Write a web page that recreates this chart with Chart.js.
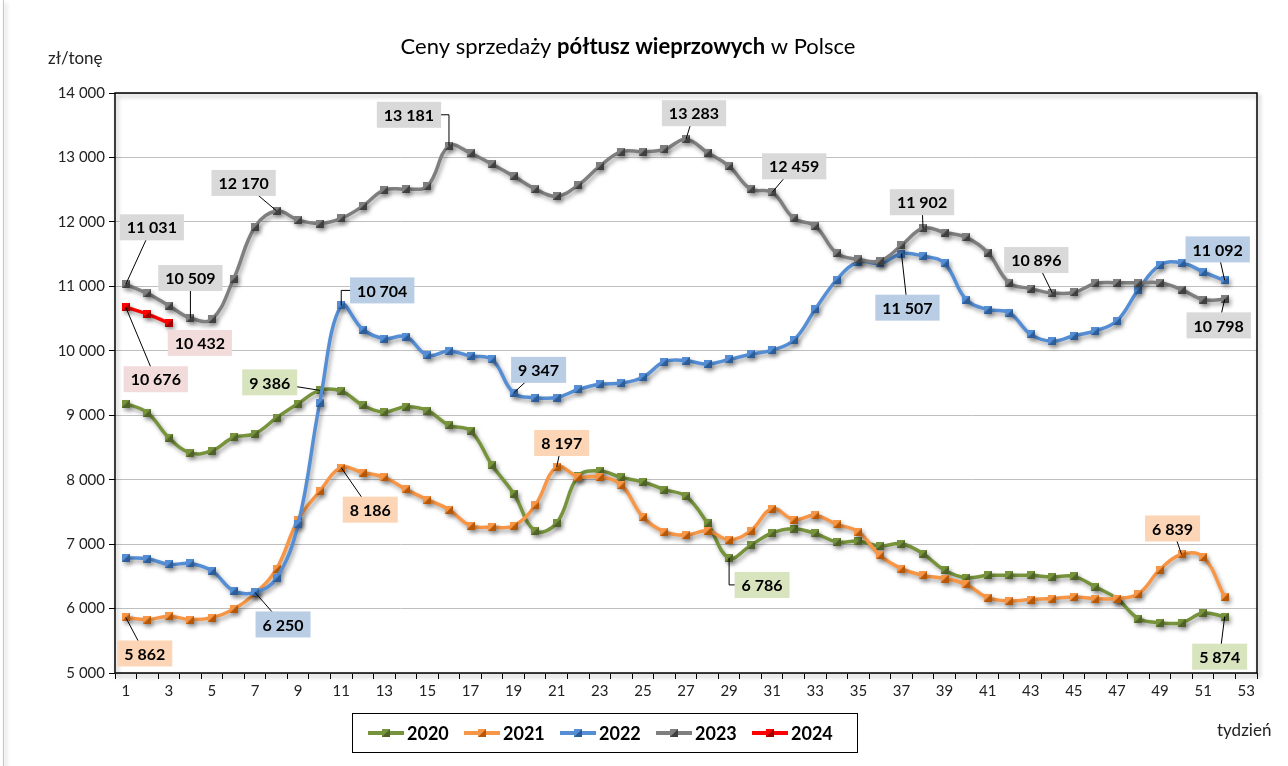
<!DOCTYPE html>
<html>
<head>
<meta charset="utf-8">
<script src="https://cdn.jsdelivr.net/npm/chart.js@4"></script>
<style>
html, body { margin: 0; background: #fff; }
canvas { display: block; }
</style>
</head>
<body>
<canvas id="chart" width="1288" height="766"></canvas>
<script>
// tygodnie (oś X)
var weeks = ['1','2','3','4','5','6','7','8','9','10','11','12','13','14','15','16','17','18','19','20',
  '21','22','23','24','25','26','27','28','29','30','31','32','33','34','35','36','37','38','39','40',
  '41','42','43','44','45','46','47','48','49','50','51','52','53'];
var years = ['2020', '2021', '2022', '2023', '2024'];

// ceny zł/tonę, tydzień 1..52
var p2020 = [9180, 9040, 8650, 8415, 8450, 8655, 8715, 8960, 9180, 9386, 9375, 9155, 9050, 9130, 9070, 8845,
  8755, 8225, 7785, 7205, 7330, 8055, 8135, 8035, 7965, 7845, 7740, 7320, 6786, 6980, 7175, 7240,
  7165, 7035, 7045, 6970, 7005, 6850, 6595, 6480, 6515, 6515, 6515, 6490, 6500, 6335, 6155, 5845,
  5780, 5780, 5930, 5874];
var p2021 = [5862, 5830, 5880, 5830, 5860, 5990, 6235, 6620, 7380, 7820, 8186, 8110, 8035, 7850, 7690, 7535,
  7285, 7265, 7285, 7600, 8197, 8045, 8045, 7915, 7420, 7190, 7140, 7205, 7070, 7205, 7550, 7380,
  7445, 7305, 7190, 6825, 6620, 6515, 6465, 6375, 6170, 6120, 6140, 6155, 6180, 6155, 6155, 6230,
  6605, 6839, 6800, 6180];
var p2022 = [6785, 6775, 6685, 6700, 6585, 6275, 6250, 6475, 7310, 9190, 10704, 10330, 10190, 10220, 9930, 9995,
  9920, 9865, 9347, 9275, 9275, 9400, 9480, 9500, 9590, 9830, 9845, 9795, 9865, 9945, 10010, 10165,
  10645, 11105, 11380, 11355, 11507, 11470, 11355, 10795, 10640, 10590, 10255, 10150, 10235, 10310, 10465, 10950,
  11330, 11365, 11225, 11092];
var p2023 = [11031, 10890, 10700, 10509, 10490, 11110, 11925, 12170, 12030, 11975, 12055, 12245, 12495, 12510, 12555, 13181,
  13065, 12895, 12710, 12510, 12400, 12570, 12865, 13090, 13090, 13125, 13283, 13075, 12865, 12510, 12459, 12055,
  11935, 11510, 11420, 11395, 11635, 11902, 11835, 11760, 11525, 11055, 10965, 10896, 10905, 11045, 11055, 11055,
  11055, 10950, 10795, 10798];
var p2024 = [10676, 10570, 10432];

var lineColors = ['#77933c', '#f79646', '#558ed5', '#7f7f7f', '#ff0000'];
var darkColors = ['#4f6228', '#b65708', '#2c5d98', '#3f3f3f', '#a00000'];
var boxColors  = ['#d7e4bd', '#fbd5b5', '#b9cde5', '#d9d9d9', '#f2dcdb'];

// opisy wartości: [seria, indeks tygodnia, przesunięcie x, przesunięcie y, odnośnik]
var callouts = [
  [3, 0, 26, -57, 'line'], [3, 3, 0, -40, 'line'], [3, 7, -33, -28, 'line'], [3, 15, -40, -31, 'elbow'],
  [3, 26, 8, -26, 'line'], [3, 30, 22, -26, 'line'], [3, 37, -1, -26, 'line'], [3, 43, -16, -33, 'line'],
  [3, 51, -6, 26, 'line'],
  [2, 6, 28, 32, 'line'], [2, 10, 41, -15, 'elbow'], [2, 18, 25, -23, 'line'], [2, 36, 6, 54, 'line'],
  [2, 51, -7, -31, 'line'],
  [1, 0, 19, 36, 'line'], [1, 10, 29, 42, 'line'], [1, 20, 5, -24, 'line'], [1, 49, -9, -26, 'line'],
  [0, 9, -50, -8, 'line'], [0, 28, 33, 27, 'elbow'], [0, 51, -5, 40, 'line'],
  [4, 0, 30, 72, 'line'], [4, 2, 31, 20, 'none']
];

var FONT = 'Lato, "Liberation Sans", sans-serif';

function fmt(v) {
  return String(v).replace(/\B(?=(\d{3})+(?!\d))/g, ' ');
}

function marker(col, dark) {
  var c = document.createElement('canvas');
  c.width = 8; c.height = 8;
  var g = c.getContext('2d');
  g.fillStyle = col;
  g.fillRect(0, 0, 8, 8);
  g.fillStyle = dark;
  g.beginPath();
  g.moveTo(8, 0); g.lineTo(8, 8); g.lineTo(0, 8);
  g.closePath();
  g.fill();
  return c;
}

var series = [p2020, p2021, p2022, p2023, p2024];
var markers = [];
var datasets = [];
for (var i = 0; i < series.length; i++) {
  markers.push(marker(lineColors[i], darkColors[i]));
  datasets.push({
    label: years[i],
    data: series[i],
    borderColor: lineColors[i],
    backgroundColor: lineColors[i],
    borderWidth: 3.5,
    tension: 0.4,
    pointStyle: markers[i],
    pointRadius: 4,
    order: series.length - i,
    clip: false
  });
}

var shadowPlugin = {
  id: 'shadow',
  beforeDatasetsDraw: function(chart) {
    var ctx = chart.ctx;
    ctx.save();
    ctx.shadowColor = 'rgba(0,0,0,0.35)';
    ctx.shadowBlur = 4;
    ctx.shadowOffsetX = 2;
    ctx.shadowOffsetY = 3;
  },
  afterDatasetsDraw: function(chart) {
    chart.ctx.restore();
  }
};

var framePlugin = {
  id: 'frame',
  beforeDatasetsDraw: function(chart) {
    var a = chart.chartArea, ctx = chart.ctx;
    ctx.save();
    ctx.strokeStyle = '#000';
    ctx.lineWidth = 1.5;
    ctx.strokeRect(a.left, a.top, a.right - a.left, a.bottom - a.top);
    ctx.strokeStyle = '#c8c8c8';
    ctx.lineWidth = 1;
    ctx.beginPath();
    ctx.moveTo(3.5, 0); ctx.lineTo(3.5, chart.height);
    ctx.stroke();
    ctx.restore();
  }
};

var textPlugin = {
  id: 'texts',
  afterDraw: function(chart) {
    var ctx = chart.ctx;
    ctx.save();

    // odnośniki i opisy
    callouts.forEach(function(c) {
      var el = chart.getDatasetMeta(c[0]).data[c[1]];
      var px = el.x, py = el.y;
      var cx = px + c[2], cy = py + c[3];
      ctx.strokeStyle = '#000';
      ctx.lineWidth = 1;
      ctx.beginPath();
      if (c[4] === 'elbow') {
        ctx.moveTo(px, py); ctx.lineTo(px, cy); ctx.lineTo(cx, cy);
      } else if (c[4] === 'line') {
        ctx.moveTo(px, py); ctx.lineTo(cx, cy);
      }
      ctx.stroke();
      var txt = fmt(series[c[0]][c[1]]);
      ctx.font = 'bold 16px ' + FONT;
      var w = ctx.measureText(txt).width + 14;
      ctx.fillStyle = boxColors[c[0]];
      ctx.fillRect(cx - w / 2, cy - 13, w, 26);
      ctx.fillStyle = '#000';
      ctx.textAlign = 'center';
      ctx.textBaseline = 'middle';
      ctx.fillText(txt, cx, cy + 1);
    });

    // tytuł
    var parts = [['Ceny sprzedaży ', ''], ['półtusz wieprzowych', 'bold '], [' w Polsce', '']];
    var total = 0;
    parts.forEach(function(p) {
      ctx.font = p[1] + '22px ' + FONT;
      total += ctx.measureText(p[0]).width;
    });
    var x = 628 - total / 2;
    ctx.fillStyle = '#000';
    ctx.textAlign = 'left';
    ctx.textBaseline = 'middle';
    parts.forEach(function(p) {
      ctx.font = p[1] + '22px ' + FONT;
      ctx.fillText(p[0], x, 47);
      x += ctx.measureText(p[0]).width;
    });

    // opisy osi
    ctx.font = '17px ' + FONT;
    ctx.fillStyle = '#222';
    ctx.fillText('zł/tonę', 48, 59);
    ctx.fillText('tydzień', 1217, 731);

    // legenda
    ctx.strokeStyle = '#000';
    ctx.lineWidth = 1;
    ctx.strokeRect(352.5, 713.5, 505, 39);
    ctx.font = 'bold 18px ' + FONT;
    for (var i = 0; i < years.length; i++) {
      var lx = 368 + i * 96;
      ctx.strokeStyle = lineColors[i];
      ctx.lineWidth = 4;
      ctx.beginPath();
      ctx.moveTo(lx, 733); ctx.lineTo(lx + 36, 733);
      ctx.stroke();
      ctx.drawImage(markers[i], lx + 14, 729);
      ctx.fillStyle = '#000';
      ctx.fillText(years[i], lx + 39, 734);
    }
    ctx.restore();
  }
};

new Chart(document.getElementById('chart'), {
  type: 'line',
  data: { labels: weeks, datasets: datasets },
  plugins: [shadowPlugin, framePlugin, textPlugin],
  options: {
    responsive: false,
    animation: false,
    devicePixelRatio: 1,
    layout: { padding: { left: 15, right: 31, top: 93, bottom: 63 } },
    plugins: {
      legend: { display: false },
      title: { display: false },
      tooltip: { enabled: false }
    },
    scales: {
      x: {
        type: 'category',
        offset: true,
        border: { display: false },
        grid: { offset: true, drawOnChartArea: false, drawTicks: true, tickLength: 6, tickColor: '#000', color: '#000' },
        ticks: {
          autoSkip: false,
          maxRotation: 0,
          padding: 3,
          color: '#222',
          font: { family: FONT, size: 15 },
          callback: function(v, i) { return i % 2 === 0 ? weeks[i] : ''; }
        },
        afterFit: function(s) { s.height = 30; }
      },
      y: {
        min: 5000,
        max: 14000,
        border: { display: false },
        grid: { color: '#bfbfbf', lineWidth: 1, tickLength: 6, tickColor: '#000' },
        ticks: {
          stepSize: 1000,
          padding: 4,
          color: '#222',
          font: { family: FONT, size: 15 },
          callback: function(v) { return fmt(v); }
        },
        afterFit: function(s) { s.width = 100; }
      }
    }
  }
});
</script>
</body>
</html>
